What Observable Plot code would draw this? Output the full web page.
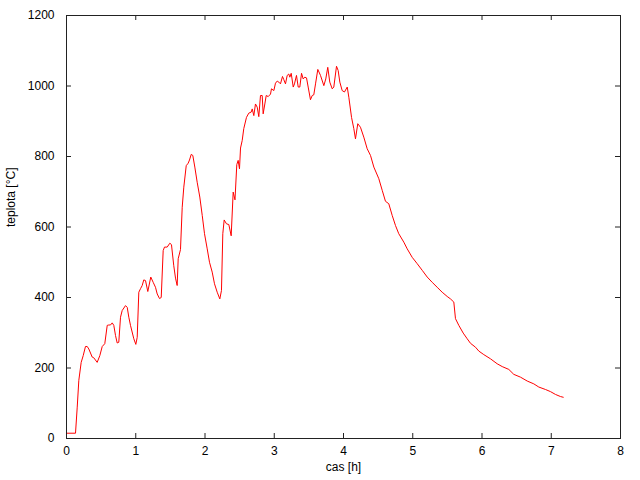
<!DOCTYPE html>
<html>
<head>
<meta charset="utf-8">
<script src="https://cdn.jsdelivr.net/npm/d3@7"></script>
<script src="https://cdn.jsdelivr.net/npm/@observablehq/plot@0.6"></script>
<style>
  html, body { margin: 0; padding: 0; background: #fff; }
  #chart svg { display: block; }
</style>
</head>
<body>
<div id="chart"></div>
<script>
const time = [0, 0.13, 0.155, 0.178, 0.212, 0.241, 0.274, 0.299, 0.322, 0.371, 0.394, 0.443, 0.481, 0.516, 0.553, 0.588, 0.611, 0.635, 0.660, 0.683, 0.708, 0.732, 0.755, 0.780, 0.804, 0.852, 0.877, 0.900, 0.924, 0.972, 1.001, 1.021, 1.044, 1.069, 1.093, 1.116, 1.141, 1.174, 1.217, 1.252, 1.285, 1.310, 1.343, 1.368, 1.396, 1.415, 1.454, 1.492, 1.516, 1.549, 1.574, 1.598, 1.613, 1.646, 1.671, 1.694, 1.729, 1.757, 1.776, 1.801, 1.824, 1.853, 1.887, 1.925, 1.960, 1.993, 2.032, 2.065, 2.104, 2.137, 2.176, 2.214, 2.238, 2.257, 2.277, 2.310, 2.344, 2.378, 2.407, 2.433, 2.459, 2.479, 2.498, 2.513, 2.537, 2.560, 2.599, 2.632, 2.667, 2.682, 2.705, 2.729, 2.754, 2.777, 2.801, 2.826, 2.840, 2.864, 2.884, 2.913, 2.946, 2.960, 2.994, 3.018, 3.043, 3.066, 3.090, 3.119, 3.138, 3.162, 3.187, 3.210, 3.225, 3.245, 3.274, 3.292, 3.321, 3.346, 3.369, 3.394, 3.418, 3.441, 3.466, 3.490, 3.523, 3.548, 3.571, 3.596, 3.629, 3.668, 3.716, 3.744, 3.773, 3.802, 3.837, 3.860, 3.899, 3.923, 3.947, 3.981, 4.014, 4.054, 4.077, 4.116, 4.149, 4.173, 4.206, 4.245, 4.293, 4.342, 4.390, 4.438, 4.510, 4.559, 4.606, 4.654, 4.703, 4.751, 4.798, 4.871, 4.920, 4.992, 5.064, 5.137, 5.209, 5.281, 5.353, 5.425, 5.497, 5.545, 5.593, 5.617, 5.665, 5.729, 5.786, 5.834, 5.906, 5.954, 6.026, 6.123, 6.219, 6.292, 6.387, 6.459, 6.556, 6.653, 6.748, 6.820, 6.917, 6.989, 7.061, 7.134, 7.173];
const temperature = [15, 15, 89, 165, 216, 235, 261, 261, 254, 231, 229, 216, 235, 261, 269, 321, 322, 322, 328, 321, 292, 271, 273, 344, 363, 377, 372, 344, 321, 283, 267, 287, 415, 425, 434, 450, 448, 417, 458, 443, 429, 410, 397, 400, 533, 543, 543, 554, 550, 490, 455, 434, 510, 536, 656, 713, 774, 781, 790, 806, 803, 770, 727, 685, 633, 581, 538, 500, 472, 439, 415, 396, 420, 581, 620, 609, 607, 575, 699, 677, 777, 789, 765, 824, 845, 879, 911, 923, 926, 935, 916, 949, 940, 913, 973, 973, 921, 949, 973, 970, 977, 992, 987, 1008, 1014, 1011, 1006, 1027, 1018, 1006, 1030, 1034, 1025, 1036, 997, 1006, 1030, 997, 997, 1036, 1020, 1025, 1023, 997, 961, 973, 975, 1006, 1047, 1030, 1001, 1020, 1053, 1011, 992, 997, 1056, 1044, 1011, 987, 983, 997, 968, 911, 879, 850, 893, 883, 855, 822, 803, 770, 737, 704, 673, 666, 633, 604, 581, 557, 538, 514, 496, 477, 458, 443, 429, 415, 403, 396, 387, 340, 321, 299, 283, 270, 259, 248, 238, 226, 212, 204, 196, 182, 174, 163, 155, 146, 139, 133, 125, 119, 117];
const xTicks = [0, 1, 2, 3, 4, 5, 6, 7, 8];
const yTicks = [0, 200, 400, 600, 800, 1000, 1200];
const xTitle = "cas [h]";
const yTitle = "teplota [°C]";

const data = time.map((t, i) => ({t, v: temperature[i]}));
const axisColor = "#222";

const W = 640, H = 480, mL = 66, mR = 20, mT = 15, mB = 42;
const plotW = W - mL - mR, plotH = H - mT - mB, tick = 5;

const chart = Plot.plot({
  width: W,
  height: H,
  marginLeft: mL,
  marginRight: mR,
  marginTop: mT,
  marginBottom: mB,
  style: {fontFamily: "'Liberation Sans', Arial, sans-serif", fontSize: "12px", color: "#000", background: "#fff"},
  x: {domain: [0, 8]},
  y: {domain: [0, 1200]},
  marks: [
    Plot.line(data, {x: "t", y: "v", stroke: "#ff0000", strokeWidth: 1}),
    // inward tick marks on all four sides (mirrored)
    Plot.ruleX(xTicks, {x: d => d, insetTop: plotH - tick, stroke: axisColor}),
    Plot.ruleX(xTicks, {x: d => d, insetBottom: plotH - tick, stroke: axisColor}),
    Plot.ruleY(yTicks, {y: d => d, insetRight: plotW - tick, stroke: axisColor}),
    Plot.ruleY(yTicks, {y: d => d, insetLeft: plotW - tick, stroke: axisColor}),
    Plot.frame({stroke: axisColor, strokeWidth: 1}),
    Plot.axisX({anchor: "bottom", ticks: xTicks, tickSize: 0, tickPadding: 8, tickFormat: d => String(d), label: null, fill: "#000"}),
    Plot.axisY({anchor: "left", ticks: yTicks, tickSize: 0, tickPadding: 12, tickFormat: d => String(d), label: null, fill: "#000"}),
    Plot.text([xTitle], {frameAnchor: "bottom", dy: 32, text: d => d, fill: "#000"}),
    Plot.text([yTitle], {frameAnchor: "left", dx: -55, rotate: -90, text: d => d, fill: "#000"})
  ]
});
document.getElementById("chart").appendChild(chart);
</script>
</body>
</html>
